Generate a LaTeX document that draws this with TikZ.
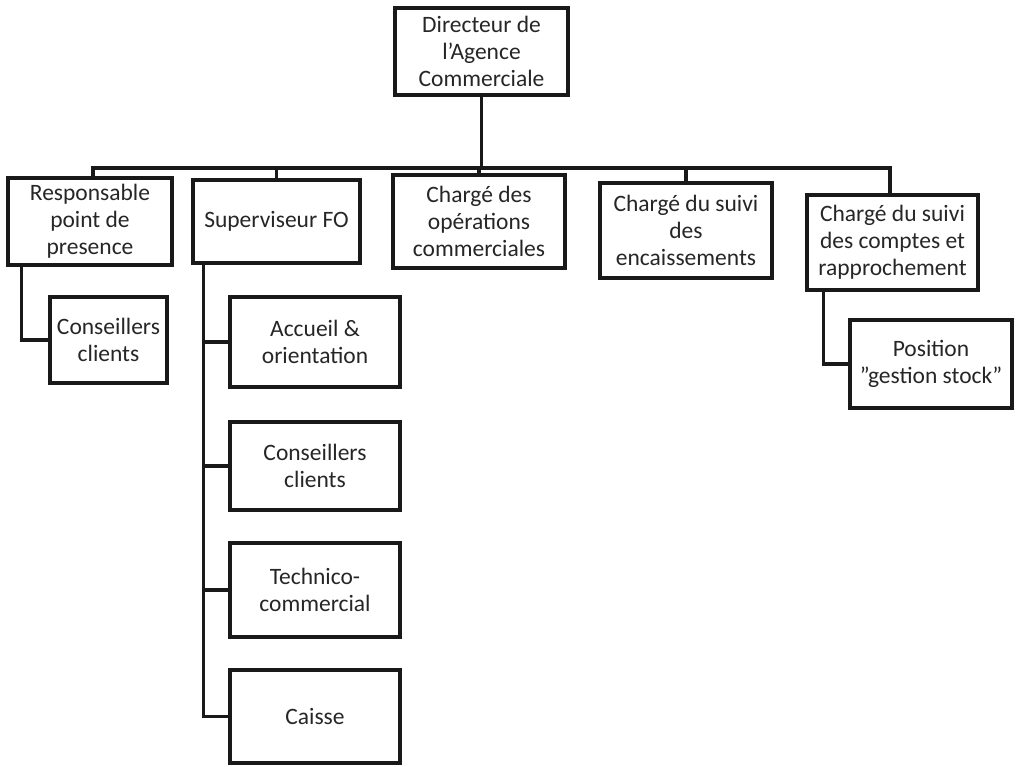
\documentclass[tikz,border=0pt]{standalone}
\usepackage{fontspec}
\setmainfont{Carlito}[Ligatures=ResetAll]
\begin{document}
\begin{tikzpicture}[x=1pt,y=-1pt,
  box/.style={draw=black!90,line width=3.2pt,align=center,inner sep=1pt,
    font=\fontsize{23.5}{27}\selectfont,text=black!85},
  link/.style={draw=black!90,line width=3.2pt}]
\useasboundingbox (0,0) rectangle (1017,767);
\node[box,minimum width=173pt,minimum height=87pt] (dir) at (481.5,51.5) {Directeur de\\l'Agence\\Commerciale};
\node[box,minimum width=164pt,minimum height=87pt] (b1) at (90,221.5) {Responsable\\point de\\presence};
\node[box,minimum width=167pt,minimum height=83pt] (b2) at (276.5,221.5) {Superviseur FO};
\node[box,minimum width=172pt,minimum height=93pt] (b3) at (479,221.5) {Chargé des\\opérations\\commerciales};
\node[box,minimum width=172pt,minimum height=95pt] (b4) at (686,230.5) {Chargé du suivi\\des\\encaissements};
\node[box,minimum width=171pt,minimum height=95pt] (b5) at (892.5,242.5) {Chargé du suivi\\des comptes et\\rapprochement};
\node[box,minimum width=117pt,minimum height=86pt] (c1) at (108.5,340) {Conseillers\\clients};
\node[box,minimum width=170pt,minimum height=90pt] (s1) at (315,342) {Accueil \&\\orientation};
\node[box,minimum width=170pt,minimum height=88pt] (s2) at (315,466) {Conseillers\\clients};
\node[box,minimum width=170pt,minimum height=94pt] (s3) at (315,590) {Technico-\\commercial};
\node[box,minimum width=170pt,minimum height=93pt] (s4) at (315,716.5) {Caisse};
\node[box,minimum width=162pt,minimum height=88pt] (p1) at (931,364) {Position\\"gestion stock"};
% bar
\coordinate (barL) at (93,168);
\coordinate (barR) at (890,168);
\draw[link] (dir.south) -- (dir.south |- barL);
\draw[link,line join=miter] (b1.north -| barL) -- (barL) -- (barR) -- (b5.north -| barR);
\draw[link] (b2.north) -- (b2.north |- barL);
\draw[link] (b3.north) -- (b3.north |- barL);
\draw[link] (b4.north) -- (b4.north |- barL);
% children
\draw[link] ([xshift=15pt]b1.south west) |- (c1.west);
\coordinate (trunk) at ([xshift=12pt]b2.south west);
\draw[link] (trunk) |- (s4.west);
\draw[link] (s1.west) -- (s1.west -| trunk);
\draw[link] (s2.west) -- (s2.west -| trunk);
\draw[link] (s3.west) -- (s3.west -| trunk);
\draw[link] ([xshift=18pt]b5.south west) |- (p1.west);
\end{tikzpicture}
\end{document}
